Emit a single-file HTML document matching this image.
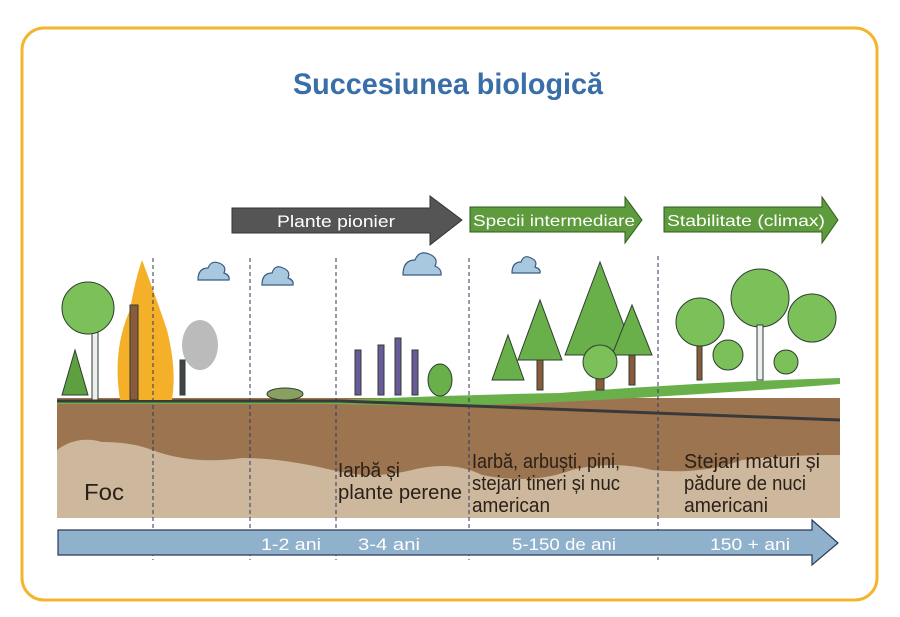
<!DOCTYPE html>
<html><head><meta charset="utf-8"><style>html,body{margin:0;padding:0;background:#fff}svg{display:block}</style></head><body>
<svg width="900" height="617" viewBox="0 0 900 617" xmlns="http://www.w3.org/2000/svg" font-family="Liberation Sans, sans-serif">
<rect x="22" y="28" width="855" height="572" rx="22" fill="#fff" stroke="#f4b42c" stroke-width="3"/>
<text x="448" y="94" text-anchor="middle" font-size="30" font-weight="bold" fill="#3a6ea8" textLength="310" lengthAdjust="spacingAndGlyphs">Succesiunea biologică</text>
<!-- top arrows -->
<polygon points="232,208 430,208 430,196 462,220 430,245 430,233 232,233" fill="#555" stroke="#333" stroke-width="1"/>
<text x="336" y="227" text-anchor="middle" font-size="17" fill="#fff" textLength="118" lengthAdjust="spacingAndGlyphs">Plante pionier</text>
<polygon points="470,207 625,207 625,197 642,220 625,243 625,232 470,232" fill="#5e9b3c" stroke="#2f5a1f" stroke-width="1"/>
<text x="473" y="226" font-size="16" fill="#fff" textLength="162" lengthAdjust="spacingAndGlyphs">Specii intermediare</text>
<polygon points="664,207 822,207 822,197 838,220 822,243 822,232 664,232" fill="#5e9b3c" stroke="#2f5a1f" stroke-width="1"/>
<text x="667" y="226" font-size="16" fill="#fff" textLength="158" lengthAdjust="spacingAndGlyphs">Stabilitate (climax)</text>
<!-- clouds -->
<g fill="#a8c8e0" stroke="#3a5a80" stroke-width="1.2">
<path d="M198,280 q0,-12 10,-12 q3,-8 11,-5 q8,3 5,10 q6,2 5,7 z"/>
<path d="M262,285 q0,-12 10,-12 q3,-9 11,-5 q8,3 5,10 q6,2 5,7 z"/>
<path d="M403,275 q0,-15 12,-15 q4,-10 14,-6 q10,4 6,12 q7,3 6,9 z"/>
<path d="M512,273 q0,-11 9,-11 q3,-8 10,-4 q7,3 4,9 q6,2 5,6 z"/>
</g>
<!-- soil -->
<rect x="57" y="398" width="783" height="120" fill="#9c7550"/>
<path d="M57,450 q20,-15 45,-8 q30,0 50,8 q40,15 90,8 q40,0 90,12 q40,10 80,0 q40,-10 70,5 q50,10 90,-5 q40,-10 80,0 q50,5 90,-10 q40,-5 98,-5 V518 H57 Z" fill="#cdb89e"/>
<path d="M57,400 H250 L340,400 Q450,395 560,393 Q700,382 840,378 V384 Q700,395 560,402 Q450,408 340,404 H57 Z" fill="#6ab04a"/>
<path d="M57,401 H340 Q600,410 840,420" fill="none" stroke="#3a3a3a" stroke-width="3"/>
<!-- trees / plants -->
<g stroke="#2c3e30" stroke-width="1">
<path d="M120,400 q-8,-50 10,-90 q5,-30 12,-50 q15,40 25,70 q10,40 5,70 z" fill="#f5b02a" stroke="none"/>
<rect x="92" y="320" width="6" height="80" fill="#eee"/>
<circle cx="88" cy="308" r="26" fill="#7cc05a"/>
<rect x="130" y="305" width="8" height="95" fill="#8a5a3a"/>
<polygon points="75,395 62,395 75,350 88,395" fill="#5ea040"/>
<ellipse cx="200" cy="345" rx="18" ry="25" fill="#bbb" stroke="none"/>
<rect x="180" y="360" width="5" height="35" fill="#444"/>
<rect x="596" y="350" width="8" height="40" fill="#8a5a3a"/>
<polygon points="600,355 565,355 600,262 635,355" fill="#6ab04a"/>
<rect x="537" y="355" width="6" height="35" fill="#8a5a3a"/>
<polygon points="540,360 518,360 540,300 562,360" fill="#6ab04a"/>
<rect x="629" y="350" width="6" height="35" fill="#8a5a3a"/>
<polygon points="632,355 612,355 632,305 652,355" fill="#6ab04a"/>
<polygon points="508,380 492,380 508,335 524,380" fill="#6ab04a"/>
<circle cx="600" cy="362" r="17" fill="#7cc05a"/>
<rect x="697" y="330" width="5" height="50" fill="#8a5a3a"/>
<circle cx="700" cy="322" r="24" fill="#7cc05a"/>
<circle cx="760" cy="298" r="29" fill="#7cc05a"/>
<circle cx="812" cy="318" r="24" fill="#7cc05a"/>
<rect x="757" y="325" width="6" height="55" fill="#eee"/>
<circle cx="728" cy="355" r="15" fill="#7cc05a"/>
<circle cx="786" cy="362" r="12" fill="#7cc05a"/>
<rect x="355" y="350" width="6" height="45" fill="#6a5a9a"/>
<rect x="378" y="345" width="6" height="50" fill="#6a5a9a"/>
<rect x="395" y="338" width="6" height="57" fill="#6a5a9a"/>
<rect x="412" y="350" width="6" height="45" fill="#6a5a9a"/>
<ellipse cx="285" cy="394" rx="18" ry="6" fill="#8aa060"/>
<ellipse cx="440" cy="380" rx="12" ry="16" fill="#6ab04a"/>
</g>
<!-- dashed lines -->
<g stroke="#2a3a5a" stroke-width="1" stroke-dasharray="4,3">
<line x1="153" y1="258" x2="153" y2="560"/><line x1="250" y1="258" x2="250" y2="560"/>
<line x1="336" y1="258" x2="336" y2="560"/><line x1="469" y1="258" x2="469" y2="560"/>
<line x1="658" y1="256" x2="658" y2="560"/>
</g>
<!-- soil text -->
<g font-size="20" fill="#2a2018">
<text x="84" y="500" font-size="23" textLength="40" lengthAdjust="spacingAndGlyphs">Foc</text>
<text x="338" y="477" textLength="62" lengthAdjust="spacingAndGlyphs">Iarbă și</text>
<text x="338" y="499" textLength="124" lengthAdjust="spacingAndGlyphs">plante perene</text>
<text x="472" y="468" textLength="148" lengthAdjust="spacingAndGlyphs">Iarbă, arbuști, pini,</text>
<text x="472" y="490" textLength="148" lengthAdjust="spacingAndGlyphs">stejari tineri și nuc</text>
<text x="472" y="512" textLength="78" lengthAdjust="spacingAndGlyphs">american</text>
<text x="684" y="468" textLength="136" lengthAdjust="spacingAndGlyphs">Stejari maturi și</text>
<text x="684" y="490" textLength="122" lengthAdjust="spacingAndGlyphs">pădure de nuci</text>
<text x="684" y="512" textLength="84" lengthAdjust="spacingAndGlyphs">americani</text>
</g>
<!-- bottom arrow -->
<polygon points="58,530 812,530 812,520 838,543 812,565 812,555 58,555" fill="#8fb1cc" stroke="#2a3a5a" stroke-width="1.2"/>
<g font-size="17" fill="#fff">
<text x="261" y="550" textLength="60" lengthAdjust="spacingAndGlyphs">1-2 ani</text>
<text x="358" y="550" textLength="62" lengthAdjust="spacingAndGlyphs">3-4 ani</text>
<text x="512" y="550" textLength="104" lengthAdjust="spacingAndGlyphs">5-150 de ani</text>
<text x="710" y="550" textLength="80" lengthAdjust="spacingAndGlyphs">150 + ani</text>
</g>
</svg>
</body></html>
